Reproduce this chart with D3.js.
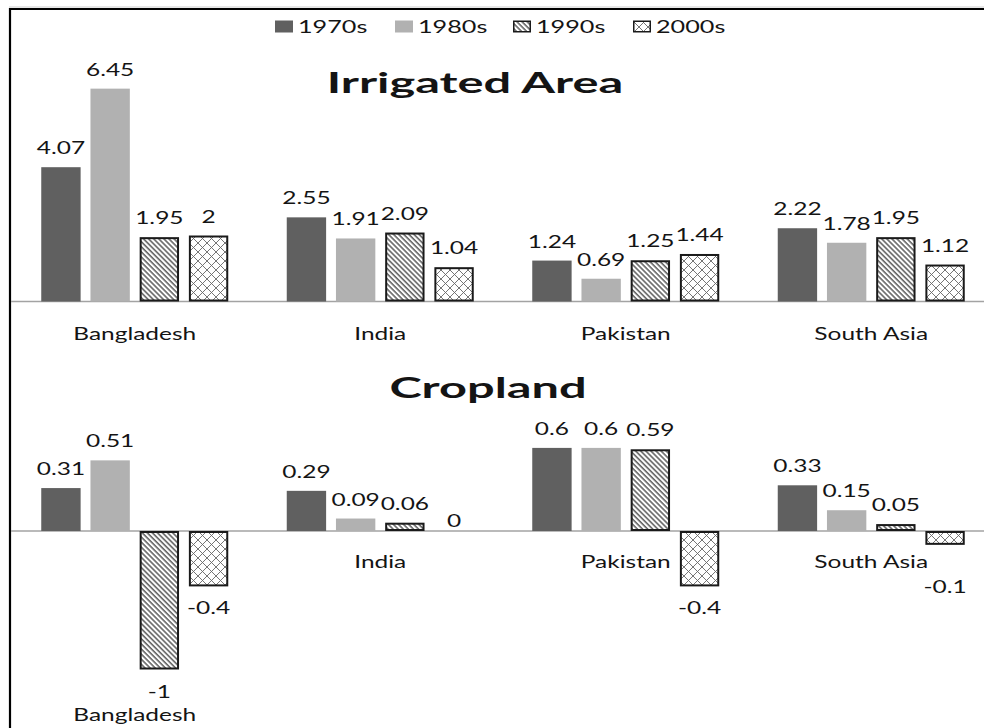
<!DOCTYPE html>
<html><head><meta charset="utf-8">
<script src="https://cdn.jsdelivr.net/npm/d3@7"></script>
<style>
html,body{margin:0;padding:0;background:#fff;}
svg{display:block;}
text{font-family:Lato,"Open Sans",sans-serif;fill:#141414;}
</style></head>
<body>
<svg id="chart" width="984" height="728"></svg>
<script>
const categories = ["Bangladesh", "India", "Pakistan", "South Asia"];
const seriesNames = ["1970s", "1980s", "1990s", "2000s"];
const irrigated1970s = [4.07, 2.55, 1.24, 2.22];
const irrigated1980s = [6.45, 1.91, 0.69, 1.78];
const irrigated1990s = [1.95, 2.09, 1.25, 1.95];
const irrigated2000s = [2, 1.04, 1.44, 1.12];
const cropland1970s = [0.31, 0.29, 0.6, 0.33];
const cropland1980s = [0.51, 0.09, 0.6, 0.15];
const cropland1990s = [-1, 0.06, 0.59, 0.05];
const cropland2000s = [-0.4, 0, -0.4, -0.1];
const titles = ["Irrigated Area", "Cropland"];

const svg = d3.select("#chart");
const W = 984, H = 728;
const SX = 1.4;       // horizontal stretch of small text
const TSX = 1.74;     // horizontal stretch of titles

// patterns
const defs = svg.append("defs");
const p1 = defs.append("pattern").attr("id","pat90").attr("patternUnits","userSpaceOnUse")
  .attr("width",3.6).attr("height",3.6).attr("patternTransform","rotate(-45)");
p1.append("rect").attr("width",3.6).attr("height",3.6).attr("fill","#fff");
p1.append("line").attr("x1",1).attr("y1",0).attr("x2",1).attr("y2",3.6)
  .attr("stroke","#5a5a5a").attr("stroke-width",1.5);
const p2 = defs.append("pattern").attr("id","pat00").attr("patternUnits","userSpaceOnUse")
  .attr("width",9).attr("height",9);
p2.append("rect").attr("width",9).attr("height",9).attr("fill","#fff");
p2.append("path").attr("d","M0,0L9,9M9,0L0,9").attr("stroke","#666").attr("stroke-width",0.9).attr("fill","none");

const fills = ["#606060", "#b1b1b1", "url(#pat90)", "url(#pat00)"];
const strokes = ["none", "none", "#1a1a1a", "#1a1a1a"];

// frame
svg.append("line").attr("x1",9).attr("x2",W).attr("y1",7).attr("y2",7).attr("stroke","#cfcfcf").attr("stroke-width",1);
svg.append("line").attr("x1",9).attr("x2",W).attr("y1",9).attr("y2",9).attr("stroke","#000").attr("stroke-width",2.2);
svg.append("line").attr("x1",10).attr("x2",10).attr("y1",8).attr("y2",H).attr("stroke","#000").attr("stroke-width",2.2);

function stretchedText(parent, x, y, str, size, sx, weight, anchor) {
  const g = parent.append("g").attr("transform", `translate(${x},${y}) scale(${sx},1)`);
  return g.append("text").attr("x",0).attr("y",0).attr("text-anchor",anchor||"middle")
    .style("font-size", size+"px").style("font-weight", weight||"normal").text(str);
}

// scales
const x0 = d3.scaleBand().domain(categories).range([12, 994]).paddingInner(0).paddingOuter(0);
const groupW = 187;
const x1 = d3.scaleBand().domain(seriesNames).range([0, groupW]).paddingInner(0.2).paddingOuter(0);
const groupOff = (x0.bandwidth() - groupW) / 2;

const panels = [
  {title: titles[0], titleX: 475, titleY: 93,
   data: [irrigated1970s, irrigated1980s, irrigated1990s, irrigated2000s],
   y: d3.scaleLinear().domain([0, 7]).range([301.5, 301.5 - 7*33]),
   catY: 340},
  {title: titles[1], titleX: 488, titleY: 398,
   data: [cropland1970s, cropland1980s, cropland1990s, cropland2000s],
   y: d3.scaleLinear().domain([-1, 1]).range([531 + 138.5, 531 - 138.5]),
   catY: 568}
];

panels.forEach(p => {
  const g = svg.append("g");
  stretchedText(g, p.titleX, p.titleY, p.title, 28, TSX, "bold");
  const y0 = p.y(0);
  // axis baseline
  g.append("line").attr("x1",11).attr("x2",W).attr("y1",y0).attr("y2",y0)
    .attr("stroke","#a3a3a3").attr("stroke-width",1.6);

  // category label positions
  const catInfo = categories.map((c, ci) => {
    const minV = d3.min(p.data, s => s[ci]);
    let yy = p.catY;
    if (minV <= -0.5) yy = p.y(minV) + 28 + 23;
    return {c, x: x0(c) + x0.bandwidth()/2, y: yy};
  });

  categories.forEach((c, ci) => {
    seriesNames.forEach((s, si) => {
      const v = p.data[si][ci];
      const bx = x0(c) + groupOff + x1(s);
      const bw = x1.bandwidth();
      const top = p.y(Math.max(0, v)), bot = p.y(Math.min(0, v));
      const sw = strokes[si] === "none" ? 0 : 2;
      if (bot - top > 0) {
        g.append("rect").attr("x", bx + sw/2).attr("y", top + sw/2)
          .attr("width", bw - sw).attr("height", Math.max(0, bot - top - sw))
          .attr("fill", fills[si]).attr("stroke", strokes[si]).attr("stroke-width", sw);
      }
      const cx = bx + bw/2;
      let ly;
      if (v === 0) ly = y0 - 4;
      else if (v > 0) ly = top - 13;
      else {
        ly = bot + 28;
        // avoid overlapping category label
        const ci2 = catInfo[ci];
        const labelHalf = 62;
        if (Math.abs(ci2.y - ly) < 20 && Math.abs(cx - ci2.x) < labelHalf + 20) ly = ci2.y + 25;
      }
      stretchedText(g, cx, ly, String(v), 17.5, SX, "normal");
    });
  });
  catInfo.forEach(ci => stretchedText(g, ci.x, ci.y, ci.c, 17.5, SX, "normal"));
});

// legend
const legendX = [275, 395, 513, 633];
const lg = svg.append("g");
seriesNames.forEach((s, i) => {
  const sw = strokes[i] === "none" ? 0 : 1.5;
  lg.append("rect").attr("x", legendX[i] + sw/2).attr("y", 20.5 + sw/2).attr("width", 18 - sw).attr("height", 12 - sw)
    .attr("fill", fills[i]).attr("stroke", strokes[i]).attr("stroke-width", sw);
  stretchedText(lg, legendX[i] + 23, 32.5, s, 18, SX, "normal", "start");
});
</script>
</body></html>
